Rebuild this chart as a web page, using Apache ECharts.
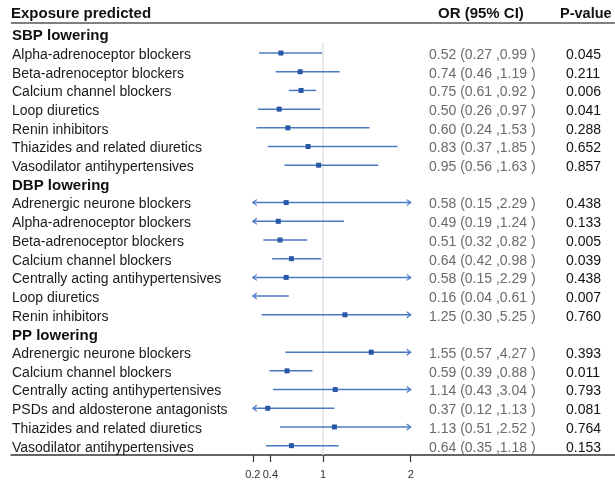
<!DOCTYPE html>
<html>
<head>
<meta charset="utf-8">
<script src="https://cdn.jsdelivr.net/npm/echarts@6/dist/echarts.min.js"></script>
<style>
  html, body { margin: 0; padding: 0; background: #fff; }
  #chart { width: 615px; height: 485px; }
</style>
</head>
<body>
<div id="chart"></div>
<script>
// Forest plot: odds ratios (95% CI) of blood-pressure-lowering drug classes

const groupTitles = ['SBP lowering', 'DBP lowering', 'PP lowering'];

const sbpDrugs = ['Alpha-adrenoceptor blockers', 'Beta-adrenoceptor blockers', 'Calcium channel blockers',
  'Loop diuretics', 'Renin inhibitors', 'Thiazides and related diuretics', 'Vasodilator antihypertensives'];
const sbpOR   = [0.52, 0.74, 0.75, 0.50, 0.60, 0.83, 0.95];
const sbpLow  = [0.27, 0.46, 0.61, 0.26, 0.24, 0.37, 0.56];
const sbpHigh = [0.99, 1.19, 0.92, 0.97, 1.53, 1.85, 1.63];
const sbpP    = [0.045, 0.211, 0.006, 0.041, 0.288, 0.652, 0.857];

const dbpDrugs = ['Adrenergic neurone blockers', 'Alpha-adrenoceptor blockers', 'Beta-adrenoceptor blockers',
  'Calcium channel blockers', 'Centrally acting antihypertensives', 'Loop diuretics', 'Renin inhibitors'];
const dbpOR   = [0.58, 0.49, 0.51, 0.64, 0.58, 0.16, 1.25];
const dbpLow  = [0.15, 0.19, 0.32, 0.42, 0.15, 0.04, 0.30];
const dbpHigh = [2.29, 1.24, 0.82, 0.98, 2.29, 0.61, 5.25];
const dbpP    = [0.438, 0.133, 0.005, 0.039, 0.438, 0.007, 0.760];

const ppDrugs = ['Adrenergic neurone blockers', 'Calcium channel blockers', 'Centrally acting antihypertensives',
  'PSDs and aldosterone antagonists', 'Thiazides and related diuretics', 'Vasodilator antihypertensives'];
const ppOR   = [1.55, 0.59, 1.14, 0.37, 1.13, 0.64];
const ppLow  = [0.57, 0.39, 0.43, 0.12, 0.51, 0.35];
const ppHigh = [4.27, 0.88, 3.04, 1.13, 2.52, 1.18];
const ppP    = [0.393, 0.011, 0.793, 0.081, 0.764, 0.153];

// Tick values of the OR axis; intervals are clipped to the outer ticks and arrowed beyond them
const xTicks = [0.2, 0.4, 1, 2];
const clipMin = 0.2;
const clipMax = 2;
const nullEffect = 1;

const FONT = '"Liberation Sans", Arial, Helvetica, sans-serif';
const LINE_COLOR = '#4a78c4';
const BOX_COLOR = '#2656a6';

// Flatten the three groups into table rows
const groups = [
  { title: groupTitles[0], drugs: sbpDrugs, or: sbpOR, lo: sbpLow, hi: sbpHigh, p: sbpP },
  { title: groupTitles[1], drugs: dbpDrugs, or: dbpOR, lo: dbpLow, hi: dbpHigh, p: dbpP },
  { title: groupTitles[2], drugs: ppDrugs,  or: ppOR,  lo: ppLow,  hi: ppHigh,  p: ppP }
];
const rows = [];
groups.forEach(g => {
  rows.push({ header: true, name: g.title });
  g.drugs.forEach((d, i) => {
    rows.push({ header: false, name: d, or: g.or[i], lo: g.lo[i], hi: g.hi[i], p: g.p[i] });
  });
});
const rowIds = rows.map((r, i) => String(i));
const ciData = [];
rows.forEach((r, i) => { if (!r.header) ciData.push([i, r.or, r.lo, r.hi]); });

const fmt2 = v => v.toFixed(2);
const orText = r => `${fmt2(r.or)} (${fmt2(r.lo)} ,${fmt2(r.hi)} )`;

function renderCI(params, api) {
  const row = api.value(0), or = api.value(1), lo = api.value(2), hi = api.value(3);
  const y = api.coord([clipMin, row])[1];
  const x0 = api.coord([Math.max(lo, clipMin), row])[0];
  const x1 = api.coord([Math.min(hi, clipMax), row])[0];
  const children = [{
    type: 'line',
    shape: { x1: x0, y1: y, x2: x1, y2: y },
    style: { stroke: LINE_COLOR, lineWidth: 1.5 }
  }];
  if (lo < clipMin) {
    children.push({ type: 'polyline', shape: { points: [[x0 + 4, y - 3], [x0, y], [x0 + 4, y + 3]] },
      style: { stroke: LINE_COLOR, lineWidth: 1.2, fill: null } });
  }
  if (hi > clipMax) {
    children.push({ type: 'polyline', shape: { points: [[x1 - 4, y - 3], [x1, y], [x1 - 4, y + 3]] },
      style: { stroke: LINE_COLOR, lineWidth: 1.2, fill: null } });
  }
  if (or >= clipMin && or <= clipMax) {
    const xc = api.coord([or, row])[0];
    children.push({ type: 'rect', shape: { x: xc - 2.5, y: y - 2.5, width: 5, height: 5 },
      style: { fill: BOX_COLOR } });
  }
  return { type: 'group', children };
}

function columnAxis(margin, formatter, rich) {
  return {
    type: 'category',
    data: rowIds,
    inverse: true,
    position: 'left',
    axisLine: { show: false },
    axisTick: { show: false },
    splitLine: { show: false },
    axisLabel: {
      inside: true,
      margin: margin,
      align: 'left',
      interval: 0,
      padding: [4, 0, 0, 0],
      fontFamily: FONT,
      formatter: formatter,
      rich: rich
    }
  };
}

const chart = echarts.init(document.getElementById('chart'), null, { renderer: 'canvas' });

chart.setOption({
  animation: false,
  backgroundColor: '#ffffff',
  textStyle: { fontFamily: FONT },
  grid: { left: 11, right: 0, top: 25, bottom: 30, containLabel: false },
  graphic: [
    { type: 'text', left: 11, top: 6, style: { text: 'Exposure predicted', font: 'bold 15px ' + FONT, fill: '#111' } },
    { type: 'text', left: 438, top: 6, style: { text: 'OR (95% CI)', font: 'bold 15px ' + FONT, fill: '#111' } },
    { type: 'text', left: 560, top: 6, style: { text: 'P-value', font: 'bold 14.5px ' + FONT, fill: '#111' } },
    { type: 'line', shape: { x1: 11, y1: 23, x2: 615, y2: 23 }, style: { stroke: '#7f7f7f', lineWidth: 2 } }
  ],
  xAxis: {
    type: 'value',
    min: -2.558,
    max: 4.33,
    splitLine: { show: false },
    axisLine: { show: true, lineStyle: { color: '#333', width: 1.5 } },
    axisTick: { show: true, customValues: xTicks, length: 7, lineStyle: { color: '#333', width: 1.2 } },
    axisLabel: { customValues: xTicks, margin: 14, fontSize: 11, color: '#333', fontFamily: FONT }
  },
  yAxis: [
    columnAxis(1, (v) => {
      const r = rows[Number(v)];
      return r.header ? `{h|${r.name}}` : `{n|${r.name}}`;
    }, {
      h: { fontSize: 15, fontWeight: 'bold', color: '#111', fontFamily: FONT },
      n: { fontSize: 14, color: '#1a1a1a', fontFamily: FONT }
    }),
    columnAxis(418, (v) => {
      const r = rows[Number(v)];
      return r.header ? '' : `{o|${orText(r)}}`;
    }, {
      o: { fontSize: 14, color: '#6a6a6a', fontFamily: FONT }
    }),
    columnAxis(555, (v) => {
      const r = rows[Number(v)];
      return r.header ? '' : `{p|${r.p.toFixed(3)}}`;
    }, {
      p: { fontSize: 14, color: '#111', fontFamily: FONT }
    }),
    { type: 'value', min: 0, max: 1, show: false, position: 'right' }
  ],
  series: [
    {
      // vertical line of no effect (OR = 1)
      type: 'line',
      yAxisIndex: 3,
      data: [[nullEffect, 0], [nullEffect, 0.96]],
      symbol: 'none',
      silent: true,
      z: 1,
      lineStyle: { color: '#e2e2e2', width: 1.5 }
    },
    {
      type: 'custom',
      yAxisIndex: 0,
      renderItem: renderCI,
      encode: { x: [1, 2, 3], y: 0 },
      data: ciData,
      z: 3
    }
  ]
});
</script>
</body>
</html>
